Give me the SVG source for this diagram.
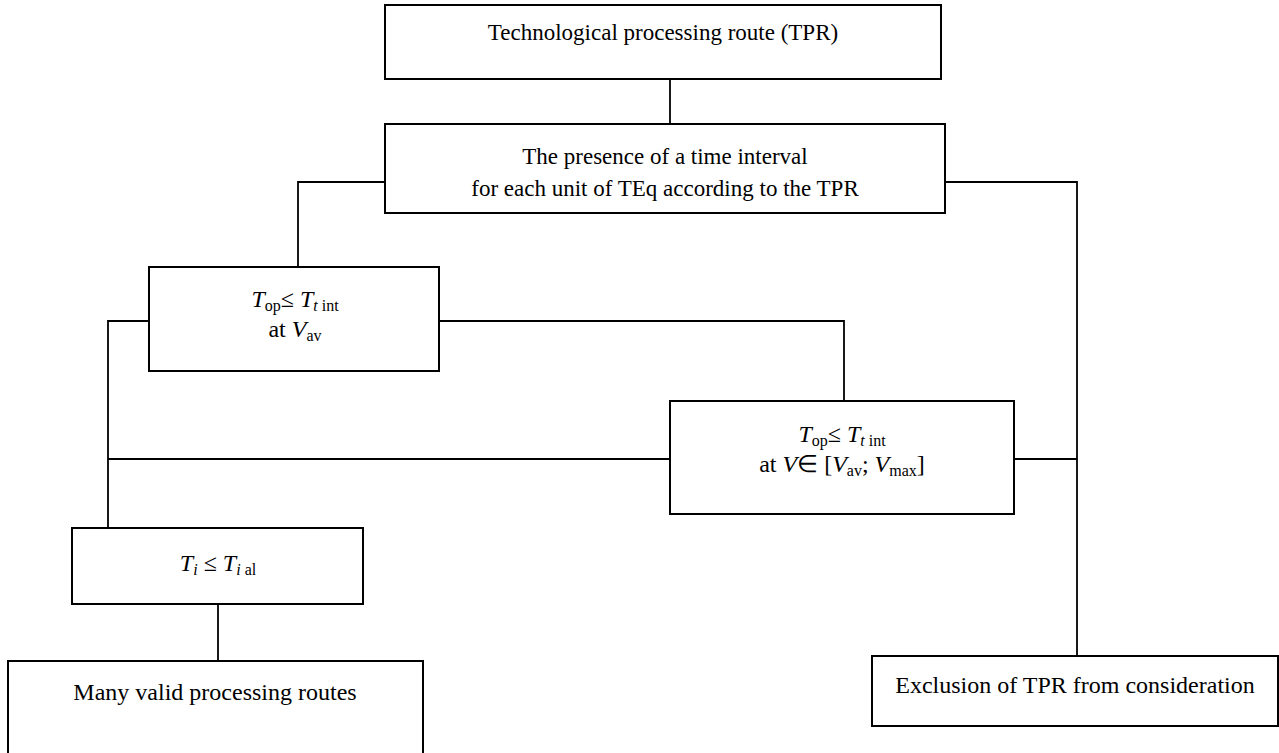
<svg xmlns="http://www.w3.org/2000/svg" width="1279" height="753" viewBox="0 0 1279 753">
<style>
.box{fill:#fff;stroke:#000;stroke-width:2}
.c line, .c polyline{stroke:#000;stroke-width:1.8;fill:none}
text{font-family:"Liberation Serif","Times New Roman",serif;font-size:24px;fill:#000;text-anchor:middle}
.t{font-size:23px}
.i{font-style:italic}
.s{font-size:16px}
</style>
<rect width="1279" height="753" fill="#fff"/>
<g class="c">
<line x1="670" y1="79" x2="670" y2="124"/>
<polyline points="385,182 298,182 298,267"/>
<polyline points="945,182 1077,182 1077,656"/>
<polyline points="439,321 844,321 844,401"/>
<line x1="1014" y1="459" x2="1077" y2="459"/>
<line x1="108" y1="459" x2="670" y2="459"/>
<polyline points="149,321 108,321 108,528"/>
<line x1="218" y1="604" x2="218" y2="661"/>
</g>
<g id="tpr">
<rect class="box" x="385" y="5" width="556" height="74"/>
<text class="t" x="663" y="40">Technological processing route (TPR)</text>
</g>
<g id="presence">
<rect class="box" x="385" y="124" width="560" height="89"/>
<text class="t" x="665" y="164">The presence of a time interval</text>
<text class="t" x="665" y="196">for each unit of TEq according to the TPR</text>
</g>
<g id="vav">
<rect class="box" x="149" y="267" width="290" height="104"/>
<text x="295" y="307"><tspan class="i">T</tspan><tspan class="s" dy="4">op</tspan><tspan dy="-4">≤ </tspan><tspan class="i">T</tspan><tspan class="s i" dy="4">t</tspan><tspan class="s"> int</tspan></text>
<text x="295" y="337">at <tspan class="i">V</tspan><tspan class="s" dy="4">av</tspan></text>
</g>
<g id="vrange">
<rect class="box" x="670" y="401" width="344" height="113"/>
<text x="842" y="442"><tspan class="i">T</tspan><tspan class="s" dy="4">op</tspan><tspan dy="-4">≤ </tspan><tspan class="i">T</tspan><tspan class="s i" dy="4">t</tspan><tspan class="s"> int</tspan></text>
<text x="842" y="472">at <tspan class="i">V</tspan>∈ [<tspan class="i">V</tspan><tspan class="s" dy="4">av</tspan><tspan dy="-4">; </tspan><tspan class="i">V</tspan><tspan class="s" dy="4">max</tspan><tspan dy="-4">]</tspan></text>
</g>
<g id="ti">
<rect class="box" x="72" y="528" width="291" height="76"/>
<text x="218" y="571"><tspan class="i">T</tspan><tspan class="s i" dy="4">i</tspan><tspan dy="-4"> ≤ </tspan><tspan class="i">T</tspan><tspan class="s i" dy="4">i</tspan><tspan class="s"> al</tspan></text>
</g>
<g id="valid">
<rect class="box" x="8" y="661" width="415" height="100"/>
<text x="215" y="700">Many valid processing routes</text>
</g>
<g id="exclusion">
<rect class="box" x="872" y="656" width="406" height="70"/>
<text x="1075" y="693">Exclusion of TPR from consideration</text>
</g>
</svg>
